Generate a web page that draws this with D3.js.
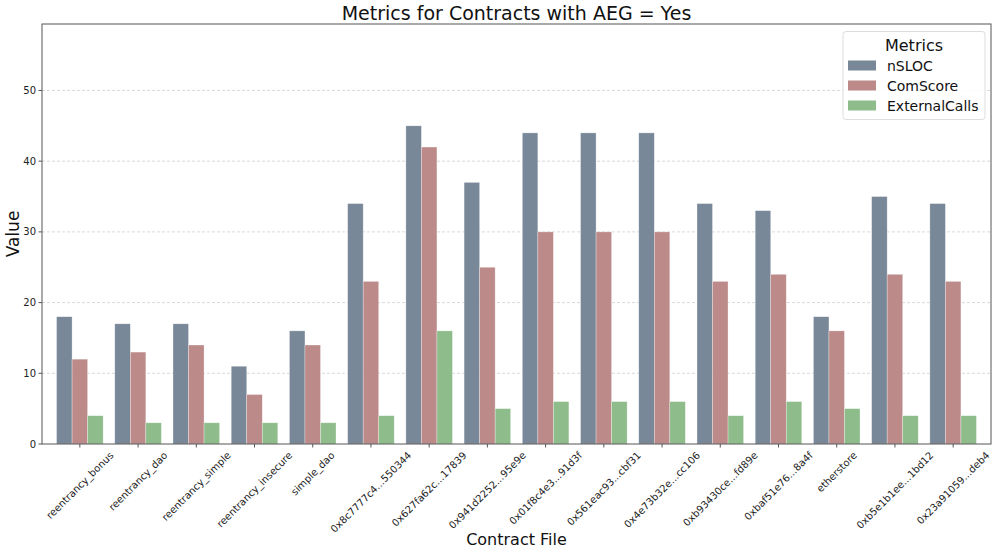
<!DOCTYPE html>
<html><head><meta charset="utf-8">
<script src="https://cdn.jsdelivr.net/npm/d3@7"></script>
<style>body{margin:0;background:#fff}svg{font-family:"DejaVu Sans",sans-serif}</style>
</head><body><svg id="c" width="997" height="553"></svg>
<script>
const categories = ["reentrancy_bonus","reentrancy_dao","reentrancy_simple","reentrancy_insecure","simple_dao","0x8c7777c4...550344","0x627fa62c...17839","0x941d2252...95e9e","0x01f8c4e3...91d3f","0x561eac93...cbf31","0x4e73b32e...cc106","0xb93430ce...fd89e","0xbaf51e76...8a4f","etherstore","0xb5e1b1ee...1bd12","0x23a91059...deb4"];
const metrics = ["nSLOC","ComScore","ExternalCalls"];
const nSLOC =         [18,17,17,11,16,34,45,37,44,44,44,34,33,18,35,34];
const ComScore =      [12,13,14, 7,14,23,42,25,30,30,30,23,24,16,24,23];
const ExternalCalls = [ 4, 3, 3, 3, 3, 4,16, 5, 6, 6, 6, 4, 6, 5, 4, 4];
const yTicks = [0,10,20,30,40,50];
const colors = ["#788898","#bc8a89","#8ebc8b"];

const series = [nSLOC, ComScore, ExternalCalls];
const svg = d3.select("#c");
const L = 42, R = 991, T = 24, B = 444;
const n = categories.length;
const x = d3.scaleLinear().domain([-0.65, n - 0.35]).range([L, R]);
const y = d3.scaleLinear().domain([0, 59.4]).range([B, T]);
const groupW = 0.8;
const bw = groupW / 3;

// grid
svg.append("g").selectAll("line").data(yTicks.filter(d=>d>0)).join("line")
  .attr("x1", L).attr("x2", R).attr("y1", d=>y(d)).attr("y2", d=>y(d))
  .attr("stroke", "#cfcfcf").attr("stroke-width", 0.8).attr("stroke-dasharray", "3,2");

// bars
metrics.forEach((m, mi) => {
  svg.append("g").selectAll("rect").data(series[mi]).join("rect")
    .attr("x", (d,i) => x(i - groupW/2 + mi*bw))
    .attr("width", x(bw) - x(0))
    .attr("y", d => y(d))
    .attr("height", d => y(0) - y(d))
    .attr("fill", colors[mi])
    .attr("stroke", "#ffffff").attr("stroke-opacity", 0.5).attr("stroke-width", 0.6);
});

// axes frame
svg.append("rect").attr("x", L).attr("y", T).attr("width", R-L).attr("height", B-T)
  .attr("fill", "none").attr("stroke", "#555").attr("stroke-width", 1);

// y ticks
const yg = svg.append("g");
yTicks.forEach(t => {
  yg.append("line").attr("x1", L-3.5).attr("x2", L).attr("y1", y(t)).attr("y2", y(t)).attr("stroke", "#555");
  yg.append("text").attr("x", L-6).attr("y", y(t)).attr("text-anchor","end").attr("dominant-baseline","central")
    .attr("font-size", 10).attr("fill","#222").text(t);
});

// x ticks
const xg = svg.append("g");
categories.forEach((c, i) => {
  const cx = x(i);
  xg.append("line").attr("x1", cx).attr("x2", cx).attr("y1", B).attr("y2", B+3.5).attr("stroke", "#555");
  const t = xg.append("text").attr("font-size", 10).attr("fill","#222")
    .attr("text-anchor","middle").attr("dominant-baseline","central").text(c);
  const len = t.node().getComputedTextLength();
  const h = 10;
  const half = (len + h) * Math.SQRT1_2 / 2;
  t.attr("transform", `translate(${cx},${B + 6 + half}) rotate(-45)`);
});

// title and labels
svg.append("text").attr("x", (L+R)/2).attr("y", 20).attr("text-anchor","middle")
  .attr("font-size", 19).attr("fill","#111").text("Metrics for Contracts with AEG = Yes");
svg.append("text").attr("x", (L+R)/2).attr("y", 545).attr("text-anchor","middle")
  .attr("font-size", 16).attr("fill","#111").text("Contract File");
svg.append("text").attr("transform", `translate(19,${(T+B)/2}) rotate(-90)`).attr("text-anchor","middle")
  .attr("font-size", 17).attr("fill","#111").text("Value");

// legend
const lg = svg.append("g");
lg.append("rect").attr("x", 843).attr("y", 31.5).attr("width", 142).attr("height", 88).attr("rx", 3)
  .attr("fill", "#fff").attr("fill-opacity", 0.85).attr("stroke", "#ddd");
lg.append("text").attr("x", 914).attr("y", 51).attr("text-anchor","middle").attr("font-size", 16).attr("fill","#111").text("Metrics");
metrics.forEach((m, i) => {
  const cy = 65.5 + i*20;
  lg.append("rect").attr("x", 848).attr("y", cy-5).attr("width", 28).attr("height", 10).attr("fill", colors[i]);
  lg.append("text").attr("x", 887).attr("y", cy).attr("dominant-baseline","central").attr("font-size", 14).attr("fill","#111").text(m);
});
</script></body></html>
